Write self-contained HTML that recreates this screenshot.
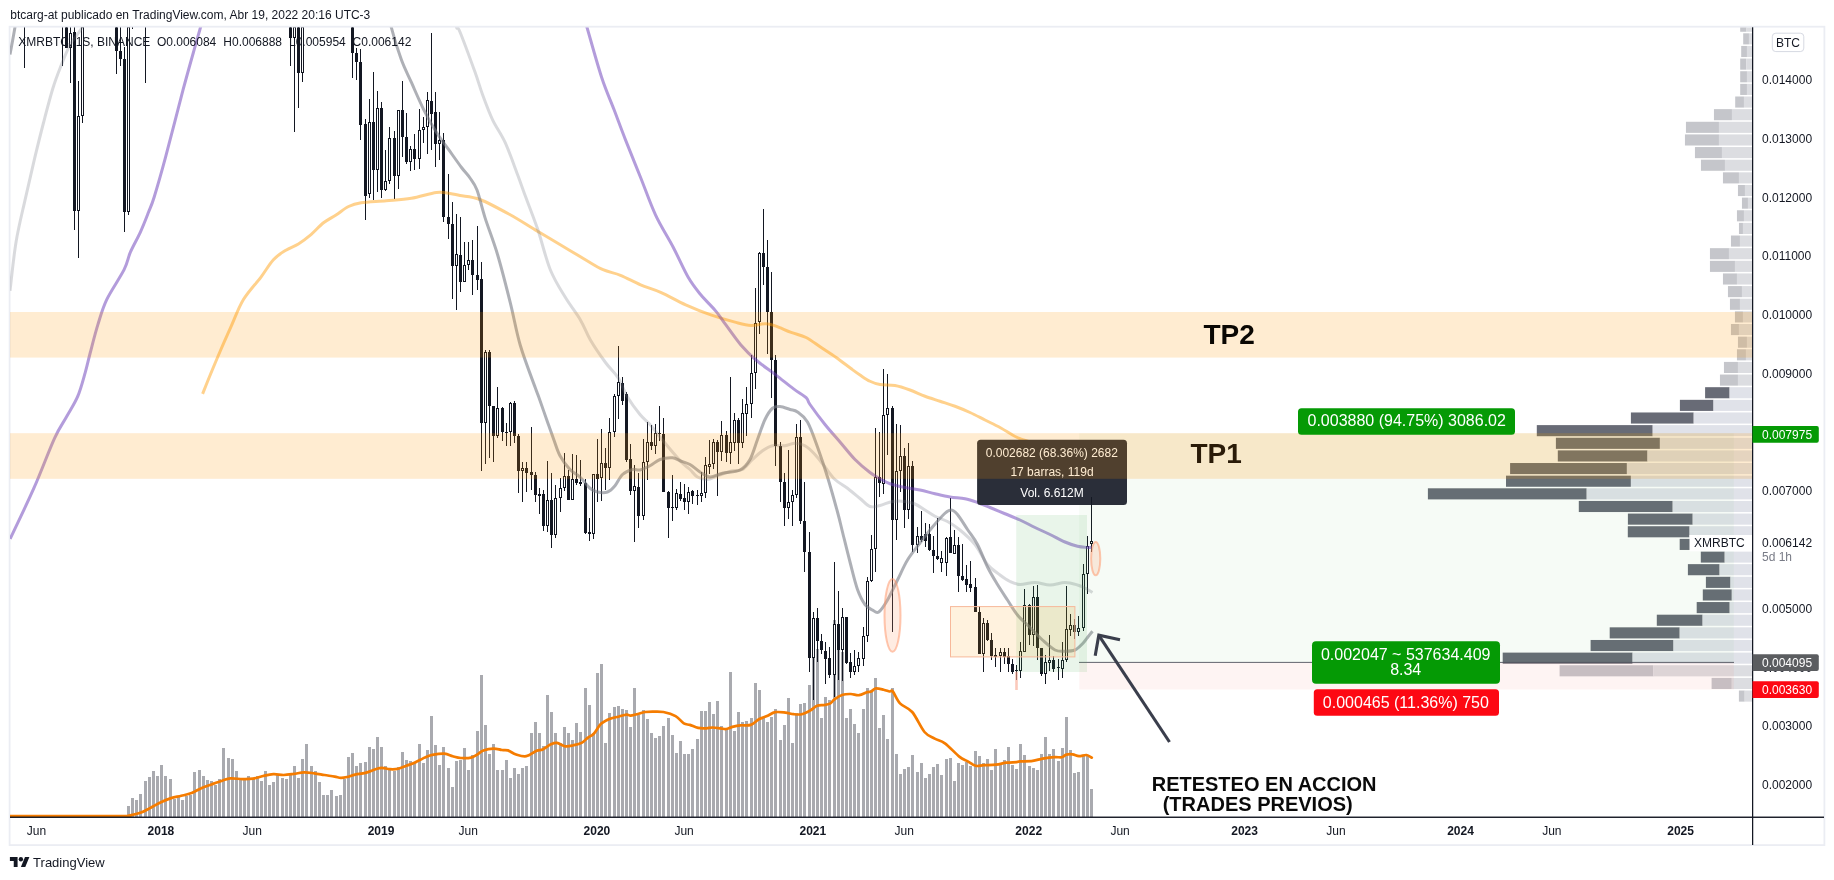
<!DOCTYPE html>
<html lang="es"><head><meta charset="utf-8"><title>XMRBTC - TradingView</title>
<style>html,body{margin:0;padding:0;background:#fff}body{width:1834px;height:880px;overflow:hidden;position:relative;font-family:"Liberation Sans",Arial,sans-serif}</style>
</head><body>
<svg width="1834" height="880" viewBox="0 0 1834 880" style="position:absolute;left:0;top:0;display:block;will-change:transform">
<defs><clipPath id="cp"><rect x="10" y="27.5" width="1742.5" height="789.5"/></clipPath></defs>
<rect x="0" y="0" width="1834" height="880" fill="#ffffff"/>
<rect x="9.6" y="26.7" width="1814.8" height="818.4" fill="none" stroke="#ebedf3" stroke-width="1.8"/>
<g clip-path="url(#cp)">
<g>
<rect x="1740.2" y="20.66" width="6.25" height="11.1" fill="#c5c6cb"/>
<rect x="1746.45" y="20.66" width="6.25" height="11.1" fill="#dcdde1"/>
<rect x="1743.2" y="33.3" width="5.75" height="11.1" fill="#c5c6cb"/>
<rect x="1748.95" y="33.3" width="3.75" height="11.1" fill="#dcdde1"/>
<rect x="1741.2" y="45.94" width="5.75" height="11.1" fill="#c5c6cb"/>
<rect x="1746.95" y="45.94" width="5.75" height="11.1" fill="#dcdde1"/>
<rect x="1740.2" y="58.58" width="6" height="11.1" fill="#c5c6cb"/>
<rect x="1746.2" y="58.58" width="6.5" height="11.1" fill="#dcdde1"/>
<rect x="1740.2" y="71.22" width="6.75" height="11.1" fill="#c5c6cb"/>
<rect x="1746.95" y="71.22" width="5.75" height="11.1" fill="#dcdde1"/>
<rect x="1740.2" y="83.86" width="6.75" height="11.1" fill="#c5c6cb"/>
<rect x="1746.95" y="83.86" width="5.75" height="11.1" fill="#dcdde1"/>
<rect x="1735.2" y="96.49" width="8.75" height="11.1" fill="#c5c6cb"/>
<rect x="1743.95" y="96.49" width="8.75" height="11.1" fill="#dcdde1"/>
<rect x="1713.95" y="109.13" width="18" height="11.1" fill="#c5c6cb"/>
<rect x="1731.95" y="109.13" width="20.75" height="11.1" fill="#dcdde1"/>
<rect x="1685.95" y="121.77" width="33" height="11.1" fill="#c5c6cb"/>
<rect x="1718.95" y="121.77" width="33.75" height="11.1" fill="#dcdde1"/>
<rect x="1684.95" y="134.41" width="34" height="11.1" fill="#c5c6cb"/>
<rect x="1718.95" y="134.41" width="33.75" height="11.1" fill="#dcdde1"/>
<rect x="1694.95" y="147.05" width="27" height="11.1" fill="#c5c6cb"/>
<rect x="1721.95" y="147.05" width="30.75" height="11.1" fill="#dcdde1"/>
<rect x="1700.95" y="159.69" width="24" height="11.1" fill="#c5c6cb"/>
<rect x="1724.95" y="159.69" width="27.75" height="11.1" fill="#dcdde1"/>
<rect x="1722.95" y="172.33" width="16" height="11.1" fill="#c5c6cb"/>
<rect x="1738.95" y="172.33" width="13.75" height="11.1" fill="#dcdde1"/>
<rect x="1737.95" y="184.97" width="7" height="11.1" fill="#c5c6cb"/>
<rect x="1744.95" y="184.97" width="7.75" height="11.1" fill="#dcdde1"/>
<rect x="1741.95" y="197.61" width="6" height="11.1" fill="#c5c6cb"/>
<rect x="1747.95" y="197.61" width="4.75" height="11.1" fill="#dcdde1"/>
<rect x="1736.95" y="210.25" width="7" height="11.1" fill="#c5c6cb"/>
<rect x="1743.95" y="210.25" width="8.75" height="11.1" fill="#dcdde1"/>
<rect x="1738.95" y="222.88" width="4" height="11.1" fill="#c5c6cb"/>
<rect x="1742.95" y="222.88" width="9.75" height="11.1" fill="#dcdde1"/>
<rect x="1730.95" y="235.52" width="9" height="11.1" fill="#c5c6cb"/>
<rect x="1739.95" y="235.52" width="12.75" height="11.1" fill="#dcdde1"/>
<rect x="1709.95" y="248.16" width="19" height="11.1" fill="#c5c6cb"/>
<rect x="1728.95" y="248.16" width="23.75" height="11.1" fill="#dcdde1"/>
<rect x="1709.95" y="260.8" width="25" height="11.1" fill="#c5c6cb"/>
<rect x="1734.95" y="260.8" width="17.75" height="11.1" fill="#dcdde1"/>
<rect x="1722.95" y="273.44" width="14" height="11.1" fill="#c5c6cb"/>
<rect x="1736.95" y="273.44" width="15.75" height="11.1" fill="#dcdde1"/>
<rect x="1727.95" y="286.08" width="14" height="11.1" fill="#c5c6cb"/>
<rect x="1741.95" y="286.08" width="10.75" height="11.1" fill="#dcdde1"/>
<rect x="1729.95" y="298.72" width="10" height="11.1" fill="#c5c6cb"/>
<rect x="1739.95" y="298.72" width="12.75" height="11.1" fill="#dcdde1"/>
<rect x="1734.95" y="311.36" width="8" height="11.1" fill="#c5c6cb"/>
<rect x="1742.95" y="311.36" width="9.75" height="11.1" fill="#dcdde1"/>
<rect x="1730.95" y="324" width="8" height="11.1" fill="#c5c6cb"/>
<rect x="1738.95" y="324" width="13.75" height="11.1" fill="#dcdde1"/>
<rect x="1737.95" y="336.64" width="9" height="11.1" fill="#c5c6cb"/>
<rect x="1746.95" y="336.64" width="5.75" height="11.1" fill="#dcdde1"/>
<rect x="1736.95" y="349.27" width="9" height="11.1" fill="#c5c6cb"/>
<rect x="1745.95" y="349.27" width="6.75" height="11.1" fill="#dcdde1"/>
<rect x="1723.95" y="361.91" width="14" height="11.1" fill="#c5c6cb"/>
<rect x="1737.95" y="361.91" width="14.75" height="11.1" fill="#dcdde1"/>
<rect x="1719.95" y="374.55" width="18" height="11.1" fill="#c5c6cb"/>
<rect x="1737.95" y="374.55" width="14.75" height="11.1" fill="#dcdde1"/>
<rect x="1705.1" y="387.19" width="24.5" height="11.1" fill="#686b76"/>
<rect x="1729.6" y="387.19" width="23.1" height="11.1" fill="#e0e2e9"/>
<rect x="1679.9" y="399.83" width="33.6" height="11.1" fill="#686b76"/>
<rect x="1713.5" y="399.83" width="39.2" height="11.1" fill="#e0e2e9"/>
<rect x="1630.9" y="412.47" width="62.8" height="11.1" fill="#686b76"/>
<rect x="1693.7" y="412.47" width="59" height="11.1" fill="#e0e2e9"/>
<rect x="1536.8" y="425.11" width="115.9" height="11.1" fill="#686b76"/>
<rect x="1652.7" y="425.11" width="100" height="11.1" fill="#e0e2e9"/>
<rect x="1555.9" y="437.75" width="104" height="11.1" fill="#686b76"/>
<rect x="1659.9" y="437.75" width="92.8" height="11.1" fill="#e0e2e9"/>
<rect x="1557.8" y="450.39" width="89.7" height="11.1" fill="#686b76"/>
<rect x="1647.5" y="450.39" width="105.2" height="11.1" fill="#e0e2e9"/>
<rect x="1510.1" y="463.03" width="116.8" height="11.1" fill="#686b76"/>
<rect x="1626.9" y="463.03" width="125.8" height="11.1" fill="#e0e2e9"/>
<rect x="1506" y="475.66" width="124.9" height="11.1" fill="#686b76"/>
<rect x="1630.9" y="475.66" width="121.8" height="11.1" fill="#e0e2e9"/>
<rect x="1427.9" y="488.3" width="158.8" height="11.1" fill="#686b76"/>
<rect x="1586.7" y="488.3" width="166" height="11.1" fill="#e0e2e9"/>
<rect x="1578.8" y="500.94" width="93.9" height="11.1" fill="#686b76"/>
<rect x="1672.7" y="500.94" width="80" height="11.1" fill="#e0e2e9"/>
<rect x="1627.9" y="513.58" width="64.8" height="11.1" fill="#686b76"/>
<rect x="1692.7" y="513.58" width="60" height="11.1" fill="#e0e2e9"/>
<rect x="1627.8" y="526.22" width="61.8" height="11.1" fill="#686b76"/>
<rect x="1689.6" y="526.22" width="63.1" height="11.1" fill="#e0e2e9"/>
<rect x="1679.7" y="538.86" width="38.5" height="11.1" fill="#686b76"/>
<rect x="1718.2" y="538.86" width="34.5" height="11.1" fill="#e0e2e9"/>
<rect x="1700.8" y="551.5" width="23.9" height="11.1" fill="#686b76"/>
<rect x="1724.7" y="551.5" width="28" height="11.1" fill="#e0e2e9"/>
<rect x="1687.9" y="564.14" width="31.7" height="11.1" fill="#686b76"/>
<rect x="1719.6" y="564.14" width="33.1" height="11.1" fill="#e0e2e9"/>
<rect x="1705.9" y="576.78" width="24.6" height="11.1" fill="#686b76"/>
<rect x="1730.5" y="576.78" width="22.2" height="11.1" fill="#e0e2e9"/>
<rect x="1702.8" y="589.42" width="29" height="11.1" fill="#686b76"/>
<rect x="1731.8" y="589.42" width="20.9" height="11.1" fill="#e0e2e9"/>
<rect x="1696.7" y="602.05" width="33" height="11.1" fill="#686b76"/>
<rect x="1729.7" y="602.05" width="23" height="11.1" fill="#e0e2e9"/>
<rect x="1656.8" y="614.69" width="45.8" height="11.1" fill="#686b76"/>
<rect x="1702.6" y="614.69" width="50.1" height="11.1" fill="#e0e2e9"/>
<rect x="1609.7" y="627.33" width="70" height="11.1" fill="#686b76"/>
<rect x="1679.7" y="627.33" width="73" height="11.1" fill="#e0e2e9"/>
<rect x="1590.6" y="639.97" width="82.9" height="11.1" fill="#686b76"/>
<rect x="1673.5" y="639.97" width="79.2" height="11.1" fill="#e0e2e9"/>
<rect x="1502.7" y="652.61" width="129.9" height="11.1" fill="#686b76"/>
<rect x="1632.6" y="652.61" width="120.1" height="11.1" fill="#e0e2e9"/>
<rect x="1559.6" y="665.25" width="93.8" height="11.1" fill="#c5c6cb"/>
<rect x="1653.4" y="665.25" width="99.3" height="11.1" fill="#dcdde1"/>
<rect x="1711.6" y="677.89" width="20.2" height="11.1" fill="#c5c6cb"/>
<rect x="1731.8" y="677.89" width="20.9" height="11.1" fill="#dcdde1"/>
<rect x="1738.9" y="690.53" width="5.8" height="11.1" fill="#c5c6cb"/>
<rect x="1744.7" y="690.53" width="8" height="11.1" fill="#dcdde1"/>
</g>
<g fill="#a9aaaf" shape-rendering="crispEdges">
<rect x="127" y="806" width="3" height="11"/>
<rect x="131" y="798" width="3" height="19"/>
<rect x="135" y="800" width="3" height="17"/>
<rect x="139" y="794" width="3" height="23"/>
<rect x="144" y="781" width="3" height="36"/>
<rect x="148" y="777" width="3" height="40"/>
<rect x="152" y="771" width="3" height="46"/>
<rect x="156" y="776" width="3" height="41"/>
<rect x="160" y="765" width="3" height="52"/>
<rect x="164" y="776" width="3" height="41"/>
<rect x="169" y="779" width="3" height="38"/>
<rect x="173" y="799" width="3" height="18"/>
<rect x="177" y="797" width="3" height="20"/>
<rect x="181" y="800" width="3" height="17"/>
<rect x="185" y="796" width="3" height="21"/>
<rect x="189" y="795" width="3" height="22"/>
<rect x="193" y="772" width="3" height="45"/>
<rect x="198" y="770" width="3" height="47"/>
<rect x="202" y="776" width="3" height="41"/>
<rect x="206" y="780" width="3" height="37"/>
<rect x="210" y="781" width="3" height="36"/>
<rect x="214" y="785" width="3" height="32"/>
<rect x="218" y="779" width="3" height="38"/>
<rect x="222" y="748" width="3" height="69"/>
<rect x="227" y="758" width="3" height="59"/>
<rect x="231" y="759" width="3" height="58"/>
<rect x="235" y="771" width="3" height="46"/>
<rect x="239" y="779" width="3" height="38"/>
<rect x="243" y="780" width="3" height="37"/>
<rect x="247" y="776" width="3" height="41"/>
<rect x="252" y="780" width="3" height="37"/>
<rect x="256" y="776" width="3" height="41"/>
<rect x="260" y="781" width="3" height="36"/>
<rect x="264" y="771" width="3" height="46"/>
<rect x="268" y="785" width="3" height="32"/>
<rect x="272" y="782" width="3" height="35"/>
<rect x="276" y="774" width="3" height="43"/>
<rect x="281" y="778" width="3" height="39"/>
<rect x="285" y="779" width="3" height="38"/>
<rect x="289" y="774" width="3" height="43"/>
<rect x="293" y="766" width="3" height="51"/>
<rect x="297" y="778" width="3" height="39"/>
<rect x="301" y="759" width="3" height="58"/>
<rect x="305" y="744" width="3" height="73"/>
<rect x="310" y="766" width="3" height="51"/>
<rect x="314" y="771" width="3" height="46"/>
<rect x="318" y="782" width="3" height="35"/>
<rect x="322" y="795" width="3" height="22"/>
<rect x="326" y="795" width="3" height="22"/>
<rect x="330" y="790" width="3" height="27"/>
<rect x="335" y="796" width="3" height="21"/>
<rect x="339" y="795" width="3" height="22"/>
<rect x="343" y="779" width="3" height="38"/>
<rect x="347" y="757" width="3" height="60"/>
<rect x="351" y="753" width="3" height="64"/>
<rect x="355" y="766" width="3" height="51"/>
<rect x="359" y="763" width="3" height="54"/>
<rect x="364" y="762" width="3" height="55"/>
<rect x="368" y="747" width="3" height="70"/>
<rect x="372" y="749" width="3" height="68"/>
<rect x="376" y="737" width="3" height="80"/>
<rect x="380" y="747" width="3" height="70"/>
<rect x="384" y="766" width="3" height="51"/>
<rect x="388" y="770" width="3" height="47"/>
<rect x="393" y="771" width="3" height="46"/>
<rect x="397" y="767" width="3" height="50"/>
<rect x="401" y="752" width="3" height="65"/>
<rect x="405" y="760" width="3" height="57"/>
<rect x="409" y="761" width="3" height="56"/>
<rect x="413" y="763" width="3" height="54"/>
<rect x="418" y="744" width="3" height="73"/>
<rect x="422" y="763" width="3" height="54"/>
<rect x="426" y="750" width="3" height="67"/>
<rect x="430" y="716" width="3" height="101"/>
<rect x="434" y="745" width="3" height="72"/>
<rect x="438" y="765" width="3" height="52"/>
<rect x="442" y="747" width="3" height="70"/>
<rect x="447" y="768" width="3" height="49"/>
<rect x="451" y="787" width="3" height="30"/>
<rect x="455" y="761" width="3" height="56"/>
<rect x="459" y="760" width="3" height="57"/>
<rect x="463" y="748" width="3" height="69"/>
<rect x="467" y="770" width="3" height="47"/>
<rect x="471" y="755" width="3" height="62"/>
<rect x="476" y="731" width="3" height="86"/>
<rect x="480" y="675" width="3" height="142"/>
<rect x="484" y="725" width="3" height="92"/>
<rect x="488" y="754" width="3" height="63"/>
<rect x="492" y="744" width="3" height="73"/>
<rect x="496" y="770" width="3" height="47"/>
<rect x="501" y="770" width="3" height="47"/>
<rect x="505" y="760" width="3" height="57"/>
<rect x="509" y="778" width="3" height="39"/>
<rect x="513" y="768" width="3" height="49"/>
<rect x="517" y="774" width="3" height="43"/>
<rect x="521" y="768" width="3" height="49"/>
<rect x="525" y="766" width="3" height="51"/>
<rect x="530" y="733" width="3" height="84"/>
<rect x="534" y="722" width="3" height="95"/>
<rect x="538" y="733" width="3" height="84"/>
<rect x="542" y="746" width="3" height="71"/>
<rect x="546" y="695" width="3" height="122"/>
<rect x="550" y="712" width="3" height="105"/>
<rect x="554" y="733" width="3" height="84"/>
<rect x="559" y="743" width="3" height="74"/>
<rect x="563" y="727" width="3" height="90"/>
<rect x="567" y="733" width="3" height="84"/>
<rect x="571" y="740" width="3" height="77"/>
<rect x="575" y="723" width="3" height="94"/>
<rect x="579" y="732" width="3" height="85"/>
<rect x="584" y="688" width="3" height="129"/>
<rect x="588" y="705" width="3" height="112"/>
<rect x="592" y="733" width="3" height="84"/>
<rect x="596" y="673" width="3" height="144"/>
<rect x="600" y="664" width="3" height="153"/>
<rect x="604" y="743" width="3" height="74"/>
<rect x="608" y="713" width="3" height="104"/>
<rect x="613" y="707" width="3" height="110"/>
<rect x="617" y="706" width="3" height="111"/>
<rect x="621" y="709" width="3" height="108"/>
<rect x="625" y="710" width="3" height="107"/>
<rect x="629" y="727" width="3" height="90"/>
<rect x="633" y="688" width="3" height="129"/>
<rect x="637" y="715" width="3" height="102"/>
<rect x="642" y="710" width="3" height="107"/>
<rect x="646" y="719" width="3" height="98"/>
<rect x="650" y="733" width="3" height="84"/>
<rect x="654" y="738" width="3" height="79"/>
<rect x="658" y="736" width="3" height="81"/>
<rect x="662" y="726" width="3" height="91"/>
<rect x="667" y="718" width="3" height="99"/>
<rect x="671" y="735" width="3" height="82"/>
<rect x="675" y="753" width="3" height="64"/>
<rect x="679" y="741" width="3" height="76"/>
<rect x="683" y="754" width="3" height="63"/>
<rect x="687" y="754" width="3" height="63"/>
<rect x="691" y="749" width="3" height="68"/>
<rect x="696" y="739" width="3" height="78"/>
<rect x="700" y="711" width="3" height="106"/>
<rect x="704" y="711" width="3" height="106"/>
<rect x="708" y="702" width="3" height="115"/>
<rect x="712" y="714" width="3" height="103"/>
<rect x="716" y="701" width="3" height="116"/>
<rect x="720" y="726" width="3" height="91"/>
<rect x="725" y="729" width="3" height="88"/>
<rect x="729" y="672" width="3" height="145"/>
<rect x="733" y="731" width="3" height="86"/>
<rect x="737" y="712" width="3" height="105"/>
<rect x="741" y="722" width="3" height="95"/>
<rect x="745" y="721" width="3" height="96"/>
<rect x="750" y="718" width="3" height="99"/>
<rect x="754" y="683" width="3" height="134"/>
<rect x="758" y="690" width="3" height="127"/>
<rect x="762" y="717" width="3" height="100"/>
<rect x="766" y="722" width="3" height="95"/>
<rect x="770" y="717" width="3" height="100"/>
<rect x="774" y="709" width="3" height="108"/>
<rect x="779" y="740" width="3" height="77"/>
<rect x="783" y="725" width="3" height="92"/>
<rect x="787" y="698" width="3" height="119"/>
<rect x="791" y="743" width="3" height="74"/>
<rect x="795" y="713" width="3" height="104"/>
<rect x="799" y="704" width="3" height="113"/>
<rect x="803" y="703" width="3" height="114"/>
<rect x="808" y="685" width="3" height="132"/>
<rect x="812" y="640" width="3" height="177"/>
<rect x="816" y="649" width="3" height="168"/>
<rect x="820" y="718" width="3" height="99"/>
<rect x="824" y="697" width="3" height="120"/>
<rect x="828" y="700" width="3" height="117"/>
<rect x="833" y="620" width="3" height="197"/>
<rect x="837" y="650" width="3" height="167"/>
<rect x="841" y="652" width="3" height="165"/>
<rect x="845" y="718" width="3" height="99"/>
<rect x="849" y="709" width="3" height="108"/>
<rect x="853" y="724" width="3" height="93"/>
<rect x="857" y="733" width="3" height="84"/>
<rect x="862" y="709" width="3" height="108"/>
<rect x="866" y="688" width="3" height="129"/>
<rect x="870" y="690" width="3" height="127"/>
<rect x="874" y="678" width="3" height="139"/>
<rect x="878" y="728" width="3" height="89"/>
<rect x="882" y="715" width="3" height="102"/>
<rect x="886" y="739" width="3" height="78"/>
<rect x="891" y="688" width="3" height="129"/>
<rect x="895" y="754" width="3" height="63"/>
<rect x="899" y="774" width="3" height="43"/>
<rect x="903" y="769" width="3" height="48"/>
<rect x="907" y="767" width="3" height="50"/>
<rect x="911" y="755" width="3" height="62"/>
<rect x="916" y="772" width="3" height="45"/>
<rect x="920" y="763" width="3" height="54"/>
<rect x="924" y="778" width="3" height="39"/>
<rect x="928" y="774" width="3" height="43"/>
<rect x="932" y="767" width="3" height="50"/>
<rect x="936" y="764" width="3" height="53"/>
<rect x="940" y="775" width="3" height="42"/>
<rect x="945" y="759" width="3" height="58"/>
<rect x="949" y="758" width="3" height="59"/>
<rect x="953" y="781" width="3" height="36"/>
<rect x="957" y="763" width="3" height="54"/>
<rect x="961" y="765" width="3" height="52"/>
<rect x="965" y="762" width="3" height="55"/>
<rect x="969" y="766" width="3" height="51"/>
<rect x="974" y="751" width="3" height="66"/>
<rect x="978" y="756" width="3" height="61"/>
<rect x="982" y="763" width="3" height="54"/>
<rect x="986" y="759" width="3" height="58"/>
<rect x="990" y="770" width="3" height="47"/>
<rect x="994" y="749" width="3" height="68"/>
<rect x="999" y="765" width="3" height="52"/>
<rect x="1003" y="760" width="3" height="57"/>
<rect x="1007" y="747" width="3" height="70"/>
<rect x="1011" y="765" width="3" height="52"/>
<rect x="1015" y="769" width="3" height="48"/>
<rect x="1019" y="744" width="3" height="73"/>
<rect x="1023" y="755" width="3" height="62"/>
<rect x="1028" y="766" width="3" height="51"/>
<rect x="1032" y="768" width="3" height="49"/>
<rect x="1036" y="770" width="3" height="47"/>
<rect x="1040" y="754" width="3" height="63"/>
<rect x="1044" y="737" width="3" height="80"/>
<rect x="1048" y="754" width="3" height="63"/>
<rect x="1052" y="749" width="3" height="68"/>
<rect x="1057" y="761" width="3" height="56"/>
<rect x="1061" y="748" width="3" height="69"/>
<rect x="1065" y="717" width="3" height="100"/>
<rect x="1069" y="750" width="3" height="67"/>
<rect x="1073" y="773" width="3" height="44"/>
<rect x="1077" y="772" width="3" height="45"/>
<rect x="1082" y="756" width="3" height="61"/>
<rect x="1086" y="756" width="3" height="61"/>
<rect x="1090" y="789" width="3" height="28"/>
</g>
<path d="M10 816 C28.33 816.03 100.33 816.23 120 816.2 C139.67 816.17 124.6 816.37 128 815.8 C131.4 815.23 136.62 814.15 140.4 812.8 C144.18 811.45 147.28 809.47 150.7 807.7 C154.12 805.93 157.5 803.8 160.9 802.2 C164.3 800.6 167.7 799.17 171.1 798.1 C174.5 797.03 177.88 796.65 181.3 795.8 C184.72 794.95 188.18 794.32 191.6 793 C195.02 791.68 198.4 789.37 201.8 787.9 C205.2 786.43 208.6 785.4 212 784.2 C215.4 783 219.13 781.67 222.2 780.7 C225.27 779.73 226.98 778.67 230.4 778.4 C233.82 778.13 238.95 779.05 242.7 779.1 C246.45 779.15 249.5 779.22 252.9 778.7 C256.3 778.18 259.68 776.75 263.1 776 C266.52 775.25 269.98 774.37 273.4 774.2 C276.82 774.03 280.2 775.05 283.6 775 C287 774.95 290.4 774.35 293.8 773.9 C297.2 773.45 300.58 772.4 304 772.3 C307.42 772.2 310.88 772.85 314.3 773.3 C317.72 773.75 321.1 774.45 324.5 775 C327.9 775.55 331.97 776.13 334.7 776.6 C337.43 777.07 338.85 777.73 340.9 777.8 C342.95 777.87 344.62 777.53 347 777 C349.38 776.47 352.13 775.28 355.2 774.6 C358.27 773.92 362 773.8 365.4 772.9 C368.8 772 372.87 770.05 375.6 769.2 C378.33 768.35 379.42 767.8 381.8 767.8 C384.18 767.8 387.18 769.03 389.9 769.2 C392.62 769.37 395.37 769.37 398.1 768.8 C400.83 768.23 403.57 766.82 406.3 765.8 C409.03 764.78 411.77 763.9 414.5 762.7 C417.23 761.5 420.77 759.55 422.7 758.6 C424.63 757.65 424.5 757.62 426.1 757 C427.7 756.38 429.23 755.45 432.3 754.9 C435.37 754.35 441.1 753.48 444.5 753.7 C447.9 753.92 449.97 755.48 452.7 756.2 C455.43 756.92 457.83 757.77 460.9 758 C463.97 758.23 468.37 758.18 471.1 757.6 C473.83 757.02 475.25 755.7 477.3 754.5 C479.35 753.3 480.68 751.38 483.4 750.4 C486.12 749.42 490.53 748.67 493.6 748.6 C496.67 748.53 499.42 749.7 501.8 750 C504.18 750.3 505.52 749.65 507.9 750.4 C510.28 751.15 513.03 753.53 516.1 754.5 C519.17 755.47 522.88 756.82 526.3 756.2 C529.72 755.58 533.87 751.93 536.6 750.8 C539.33 749.67 540.32 750.48 542.7 749.4 C545.08 748.32 548.52 745.38 550.9 744.3 C553.28 743.22 554.62 742.57 557 742.9 C559.38 743.23 562.47 745.9 565.2 746.3 C567.93 746.7 570.67 745.87 573.4 745.3 C576.13 744.73 579.22 744.15 581.6 742.9 C583.98 741.65 585.67 739.33 587.7 737.8 C589.73 736.27 591.58 736.03 593.8 733.7 C596.02 731.37 598.27 726.3 601 723.8 C603.73 721.3 607.3 719.88 610.2 718.7 C613.1 717.52 615.68 717.38 618.4 716.7 C621.12 716.02 624.47 714.77 626.5 714.6 C628.53 714.43 628.88 715.77 630.6 715.7 C632.32 715.63 634.4 714.82 636.8 714.2 C639.2 713.58 642.28 712.43 645 712 C647.72 711.57 650.03 711.6 653.1 711.6 C656.17 711.6 659.65 711.25 663.4 712 C667.15 712.75 672.2 714.2 675.6 716.1 C679 718 681.42 721.93 683.8 723.4 C686.18 724.87 687.52 724.15 689.9 724.9 C692.28 725.65 695.37 727.33 698.1 727.9 C700.83 728.47 703.92 728.37 706.3 728.3 C708.68 728.23 710.02 727.5 712.4 727.5 C714.78 727.5 718.32 728.05 720.6 728.3 C722.88 728.55 724.15 729.23 726.1 729 C728.05 728.77 729.92 727.52 732.3 726.9 C734.68 726.28 737.33 725.63 740.4 725.3 C743.47 724.97 747.62 725.9 750.7 724.9 C753.78 723.9 756.18 720.77 758.9 719.3 C761.62 717.83 764.28 717.28 767 716.1 C769.72 714.92 772.13 712.78 775.2 712.2 C778.27 711.62 782.33 712.27 785.4 712.6 C788.47 712.93 790.87 713.93 793.6 714.2 C796.33 714.47 799.07 714.8 801.8 714.2 C804.53 713.6 807.45 712 810 710.6 C812.55 709.2 814.72 706.73 817.1 705.8 C819.48 704.87 822.08 705.4 824.3 705 C826.52 704.6 828.7 704.35 830.4 703.4 C832.1 702.45 832.45 700.73 834.5 699.3 C836.55 697.87 839.97 695.68 842.7 694.8 C845.43 693.92 848.17 693.93 850.9 694 C853.63 694.07 856.38 695.52 859.1 695.2 C861.82 694.88 865.17 692.72 867.2 692.1 C869.23 691.48 869.93 692.1 871.3 691.5 C872.67 690.9 873.35 688.8 875.4 688.5 C877.45 688.2 881.22 689.2 883.6 689.7 C885.98 690.2 888.17 691.2 889.7 691.5 C891.23 691.8 891.08 689.52 892.8 691.5 C894.52 693.48 896.77 699.98 900 703.4 C903.23 706.82 908.12 707.23 912.2 712 C916.28 716.77 920.75 727.57 924.5 732 C928.25 736.43 931.3 736.72 934.7 738.6 C938.1 740.48 940.8 740.3 944.9 743.3 C949 746.3 955.55 753.63 959.3 756.6 C963.05 759.57 964.68 759.57 967.4 761.1 C970.12 762.63 972.87 765.12 975.6 765.8 C978.33 766.48 980.38 765.38 983.8 765.2 C987.22 765.02 992.35 765.12 996.1 764.7 C999.85 764.28 1002.9 763.13 1006.3 762.7 C1009.7 762.27 1014.22 762.32 1016.5 762.1 C1018.78 761.88 1017.3 761.6 1020 761.4 C1022.7 761.2 1028.92 761.37 1032.7 760.9 C1036.48 760.43 1039.07 759.23 1042.7 758.6 C1046.33 757.97 1051.32 757.32 1054.5 757.1 C1057.68 756.88 1059.82 757.72 1061.8 757.3 C1063.78 756.88 1064.58 755.08 1066.4 754.6 C1068.22 754.12 1070.6 754.13 1072.7 754.4 C1074.8 754.67 1076.72 756.1 1079 756.2 C1081.28 756.3 1084.27 754.75 1086.4 755 C1088.53 755.25 1090.9 757.25 1091.8 757.7" fill="none" stroke="#f57c00" stroke-width="2.7" stroke-linejoin="round" stroke-linecap="round"/>
<g fill="#131722" shape-rendering="crispEdges">
<rect x="24" y="0" width="1" height="68"/>
<rect x="23" y="0" width="3" height="20"/>
<rect x="62" y="0" width="1" height="66"/>
<rect x="61" y="0" width="3" height="20"/>
<rect x="66" y="0" width="1" height="48"/>
<rect x="65" y="0" width="3" height="48"/>
<rect x="70" y="0" width="1" height="83"/>
<rect x="69" y="33" width="3" height="15"/>
<rect x="70" y="34" width="1" height="13" fill="#ffffff"/>
<rect x="74" y="0" width="1" height="230"/>
<rect x="73" y="32" width="3" height="179"/>
<rect x="78" y="81" width="1" height="177"/>
<rect x="77" y="116" width="3" height="95"/>
<rect x="78" y="117" width="1" height="93" fill="#ffffff"/>
<rect x="82" y="0" width="1" height="123"/>
<rect x="81" y="0" width="3" height="116"/>
<rect x="82" y="1" width="1" height="114" fill="#ffffff"/>
<rect x="116" y="0" width="1" height="74"/>
<rect x="115" y="0" width="3" height="51"/>
<rect x="120" y="0" width="1" height="66"/>
<rect x="119" y="51" width="3" height="8"/>
<rect x="124" y="47" width="1" height="185"/>
<rect x="123" y="59" width="3" height="153"/>
<rect x="128" y="0" width="1" height="215"/>
<rect x="127" y="0" width="3" height="212"/>
<rect x="128" y="1" width="1" height="210" fill="#ffffff"/>
<rect x="132" y="0" width="1" height="29"/>
<rect x="131" y="0" width="3" height="20"/>
<rect x="145" y="0" width="1" height="83"/>
<rect x="144" y="0" width="3" height="20"/>
<rect x="290" y="0" width="1" height="66"/>
<rect x="289" y="0" width="3" height="38"/>
<rect x="294" y="0" width="1" height="132"/>
<rect x="293" y="0" width="3" height="38"/>
<rect x="294" y="1" width="1" height="36" fill="#ffffff"/>
<rect x="298" y="0" width="1" height="108"/>
<rect x="297" y="0" width="3" height="73"/>
<rect x="302" y="0" width="1" height="82"/>
<rect x="301" y="0" width="3" height="73"/>
<rect x="302" y="1" width="1" height="71" fill="#ffffff"/>
<rect x="352" y="0" width="1" height="78"/>
<rect x="351" y="0" width="3" height="53"/>
<rect x="356" y="48" width="1" height="32"/>
<rect x="355" y="53" width="3" height="9"/>
<rect x="360" y="49" width="1" height="91"/>
<rect x="359" y="62" width="3" height="63"/>
<rect x="365" y="119" width="1" height="101"/>
<rect x="364" y="124" width="3" height="72"/>
<rect x="369" y="99" width="1" height="99"/>
<rect x="368" y="122" width="3" height="72"/>
<rect x="369" y="123" width="1" height="70" fill="#ffffff"/>
<rect x="373" y="72" width="1" height="128"/>
<rect x="372" y="122" width="3" height="48"/>
<rect x="377" y="91" width="1" height="101"/>
<rect x="376" y="108" width="3" height="62"/>
<rect x="377" y="109" width="1" height="60" fill="#ffffff"/>
<rect x="381" y="102" width="1" height="96"/>
<rect x="380" y="108" width="3" height="82"/>
<rect x="385" y="150" width="1" height="41"/>
<rect x="384" y="181" width="3" height="9"/>
<rect x="385" y="182" width="1" height="7" fill="#ffffff"/>
<rect x="389" y="127" width="1" height="57"/>
<rect x="388" y="138" width="3" height="43"/>
<rect x="389" y="139" width="1" height="41" fill="#ffffff"/>
<rect x="394" y="131" width="1" height="68"/>
<rect x="393" y="138" width="3" height="38"/>
<rect x="398" y="110" width="1" height="79"/>
<rect x="397" y="110" width="3" height="66"/>
<rect x="398" y="111" width="1" height="64" fill="#ffffff"/>
<rect x="402" y="81" width="1" height="76"/>
<rect x="401" y="110" width="3" height="27"/>
<rect x="406" y="113" width="1" height="51"/>
<rect x="405" y="137" width="3" height="25"/>
<rect x="410" y="146" width="1" height="25"/>
<rect x="409" y="149" width="3" height="13"/>
<rect x="410" y="150" width="1" height="11" fill="#ffffff"/>
<rect x="414" y="134" width="1" height="36"/>
<rect x="413" y="149" width="3" height="10"/>
<rect x="419" y="109" width="1" height="60"/>
<rect x="418" y="130" width="3" height="29"/>
<rect x="419" y="131" width="1" height="27" fill="#ffffff"/>
<rect x="423" y="117" width="1" height="26"/>
<rect x="422" y="127" width="3" height="3"/>
<rect x="423" y="128" width="1" height="1" fill="#ffffff"/>
<rect x="427" y="92" width="1" height="62"/>
<rect x="426" y="100" width="3" height="27"/>
<rect x="427" y="101" width="1" height="25" fill="#ffffff"/>
<rect x="431" y="33" width="1" height="117"/>
<rect x="430" y="101" width="3" height="13"/>
<rect x="435" y="92" width="1" height="75"/>
<rect x="434" y="112" width="3" height="32"/>
<rect x="439" y="112" width="1" height="48"/>
<rect x="438" y="140" width="3" height="4"/>
<rect x="439" y="141" width="1" height="2" fill="#ffffff"/>
<rect x="443" y="133" width="1" height="89"/>
<rect x="442" y="140" width="3" height="77"/>
<rect x="448" y="174" width="1" height="65"/>
<rect x="447" y="217" width="3" height="7"/>
<rect x="452" y="202" width="1" height="97"/>
<rect x="451" y="224" width="3" height="42"/>
<rect x="456" y="214" width="1" height="96"/>
<rect x="455" y="254" width="3" height="12"/>
<rect x="456" y="255" width="1" height="10" fill="#ffffff"/>
<rect x="460" y="217" width="1" height="75"/>
<rect x="459" y="255" width="3" height="27"/>
<rect x="464" y="242" width="1" height="40"/>
<rect x="463" y="265" width="3" height="17"/>
<rect x="464" y="266" width="1" height="15" fill="#ffffff"/>
<rect x="468" y="242" width="1" height="28"/>
<rect x="467" y="260" width="3" height="5"/>
<rect x="468" y="261" width="1" height="3" fill="#ffffff"/>
<rect x="472" y="240" width="1" height="55"/>
<rect x="471" y="260" width="3" height="15"/>
<rect x="477" y="226" width="1" height="64"/>
<rect x="476" y="275" width="3" height="5"/>
<rect x="481" y="262" width="1" height="209"/>
<rect x="480" y="279" width="3" height="144"/>
<rect x="485" y="350" width="1" height="114"/>
<rect x="484" y="352" width="3" height="71"/>
<rect x="485" y="353" width="1" height="69" fill="#ffffff"/>
<rect x="489" y="350" width="1" height="108"/>
<rect x="488" y="352" width="3" height="54"/>
<rect x="493" y="406" width="1" height="56"/>
<rect x="492" y="406" width="3" height="30"/>
<rect x="497" y="387" width="1" height="51"/>
<rect x="496" y="408" width="3" height="28"/>
<rect x="497" y="409" width="1" height="26" fill="#ffffff"/>
<rect x="502" y="407" width="1" height="34"/>
<rect x="501" y="408" width="3" height="24"/>
<rect x="506" y="423" width="1" height="23"/>
<rect x="505" y="432" width="3" height="1"/>
<rect x="510" y="402" width="1" height="44"/>
<rect x="509" y="403" width="3" height="29"/>
<rect x="510" y="404" width="1" height="27" fill="#ffffff"/>
<rect x="514" y="401" width="1" height="42"/>
<rect x="513" y="403" width="3" height="33"/>
<rect x="518" y="434" width="1" height="59"/>
<rect x="517" y="436" width="3" height="35"/>
<rect x="522" y="462" width="1" height="40"/>
<rect x="521" y="468" width="3" height="3"/>
<rect x="522" y="469" width="1" height="1" fill="#ffffff"/>
<rect x="526" y="462" width="1" height="30"/>
<rect x="525" y="468" width="3" height="5"/>
<rect x="531" y="427" width="1" height="63"/>
<rect x="530" y="472" width="3" height="3"/>
<rect x="535" y="472" width="1" height="30"/>
<rect x="534" y="475" width="3" height="20"/>
<rect x="539" y="488" width="1" height="26"/>
<rect x="538" y="494" width="3" height="2"/>
<rect x="543" y="490" width="1" height="41"/>
<rect x="542" y="494" width="3" height="32"/>
<rect x="547" y="461" width="1" height="71"/>
<rect x="546" y="500" width="3" height="26"/>
<rect x="547" y="501" width="1" height="24" fill="#ffffff"/>
<rect x="551" y="473" width="1" height="75"/>
<rect x="550" y="500" width="3" height="35"/>
<rect x="555" y="485" width="1" height="53"/>
<rect x="554" y="498" width="3" height="37"/>
<rect x="555" y="499" width="1" height="35" fill="#ffffff"/>
<rect x="560" y="478" width="1" height="34"/>
<rect x="559" y="488" width="3" height="10"/>
<rect x="560" y="489" width="1" height="8" fill="#ffffff"/>
<rect x="564" y="453" width="1" height="38"/>
<rect x="563" y="476" width="3" height="12"/>
<rect x="564" y="477" width="1" height="10" fill="#ffffff"/>
<rect x="568" y="470" width="1" height="30"/>
<rect x="567" y="476" width="3" height="24"/>
<rect x="572" y="454" width="1" height="46"/>
<rect x="571" y="479" width="3" height="21"/>
<rect x="572" y="480" width="1" height="19" fill="#ffffff"/>
<rect x="576" y="455" width="1" height="30"/>
<rect x="575" y="479" width="3" height="4"/>
<rect x="580" y="460" width="1" height="26"/>
<rect x="579" y="482" width="3" height="2"/>
<rect x="585" y="479" width="1" height="55"/>
<rect x="584" y="483" width="3" height="50"/>
<rect x="589" y="518" width="1" height="23"/>
<rect x="588" y="532" width="3" height="2"/>
<rect x="593" y="474" width="1" height="65"/>
<rect x="592" y="474" width="3" height="60"/>
<rect x="593" y="475" width="1" height="58" fill="#ffffff"/>
<rect x="597" y="439" width="1" height="63"/>
<rect x="596" y="474" width="3" height="5"/>
<rect x="601" y="429" width="1" height="72"/>
<rect x="600" y="463" width="3" height="15"/>
<rect x="601" y="464" width="1" height="13" fill="#ffffff"/>
<rect x="605" y="448" width="1" height="42"/>
<rect x="604" y="463" width="3" height="5"/>
<rect x="609" y="418" width="1" height="62"/>
<rect x="608" y="432" width="3" height="36"/>
<rect x="609" y="433" width="1" height="34" fill="#ffffff"/>
<rect x="614" y="394" width="1" height="43"/>
<rect x="613" y="396" width="3" height="36"/>
<rect x="614" y="397" width="1" height="34" fill="#ffffff"/>
<rect x="618" y="346" width="1" height="73"/>
<rect x="617" y="382" width="3" height="14"/>
<rect x="618" y="383" width="1" height="12" fill="#ffffff"/>
<rect x="622" y="377" width="1" height="28"/>
<rect x="621" y="383" width="3" height="18"/>
<rect x="626" y="392" width="1" height="70"/>
<rect x="625" y="394" width="3" height="66"/>
<rect x="630" y="444" width="1" height="51"/>
<rect x="629" y="459" width="3" height="32"/>
<rect x="634" y="465" width="1" height="77"/>
<rect x="633" y="486" width="3" height="5"/>
<rect x="634" y="487" width="1" height="3" fill="#ffffff"/>
<rect x="638" y="473" width="1" height="55"/>
<rect x="637" y="487" width="3" height="29"/>
<rect x="643" y="439" width="1" height="81"/>
<rect x="642" y="462" width="3" height="54"/>
<rect x="643" y="463" width="1" height="52" fill="#ffffff"/>
<rect x="647" y="422" width="1" height="58"/>
<rect x="646" y="442" width="3" height="20"/>
<rect x="647" y="443" width="1" height="18" fill="#ffffff"/>
<rect x="651" y="425" width="1" height="25"/>
<rect x="650" y="442" width="3" height="4"/>
<rect x="655" y="424" width="1" height="30"/>
<rect x="654" y="433" width="3" height="13"/>
<rect x="655" y="434" width="1" height="11" fill="#ffffff"/>
<rect x="659" y="406" width="1" height="35"/>
<rect x="658" y="433" width="3" height="1"/>
<rect x="663" y="418" width="1" height="74"/>
<rect x="662" y="434" width="3" height="58"/>
<rect x="668" y="491" width="1" height="47"/>
<rect x="667" y="492" width="3" height="16"/>
<rect x="672" y="475" width="1" height="46"/>
<rect x="671" y="507" width="3" height="1"/>
<rect x="676" y="489" width="1" height="21"/>
<rect x="675" y="493" width="3" height="15"/>
<rect x="676" y="494" width="1" height="13" fill="#ffffff"/>
<rect x="680" y="482" width="1" height="19"/>
<rect x="679" y="494" width="3" height="5"/>
<rect x="684" y="484" width="1" height="26"/>
<rect x="683" y="498" width="3" height="4"/>
<rect x="688" y="487" width="1" height="27"/>
<rect x="687" y="492" width="3" height="10"/>
<rect x="688" y="493" width="1" height="8" fill="#ffffff"/>
<rect x="692" y="490" width="1" height="14"/>
<rect x="691" y="491" width="3" height="5"/>
<rect x="697" y="490" width="1" height="15"/>
<rect x="696" y="495" width="3" height="1"/>
<rect x="701" y="472" width="1" height="30"/>
<rect x="700" y="493" width="3" height="3"/>
<rect x="701" y="494" width="1" height="1" fill="#ffffff"/>
<rect x="705" y="457" width="1" height="41"/>
<rect x="704" y="465" width="3" height="28"/>
<rect x="705" y="466" width="1" height="26" fill="#ffffff"/>
<rect x="709" y="440" width="1" height="34"/>
<rect x="708" y="464" width="3" height="3"/>
<rect x="709" y="465" width="1" height="1" fill="#ffffff"/>
<rect x="713" y="439" width="1" height="30"/>
<rect x="712" y="442" width="3" height="22"/>
<rect x="713" y="443" width="1" height="20" fill="#ffffff"/>
<rect x="717" y="440" width="1" height="56"/>
<rect x="716" y="442" width="3" height="10"/>
<rect x="721" y="421" width="1" height="40"/>
<rect x="720" y="435" width="3" height="17"/>
<rect x="721" y="436" width="1" height="15" fill="#ffffff"/>
<rect x="726" y="431" width="1" height="31"/>
<rect x="725" y="435" width="3" height="18"/>
<rect x="730" y="377" width="1" height="87"/>
<rect x="729" y="442" width="3" height="11"/>
<rect x="730" y="443" width="1" height="9" fill="#ffffff"/>
<rect x="734" y="413" width="1" height="38"/>
<rect x="733" y="420" width="3" height="23"/>
<rect x="734" y="421" width="1" height="21" fill="#ffffff"/>
<rect x="738" y="418" width="1" height="46"/>
<rect x="737" y="420" width="3" height="23"/>
<rect x="742" y="399" width="1" height="49"/>
<rect x="741" y="413" width="3" height="30"/>
<rect x="742" y="414" width="1" height="28" fill="#ffffff"/>
<rect x="746" y="387" width="1" height="49"/>
<rect x="745" y="404" width="3" height="10"/>
<rect x="746" y="405" width="1" height="8" fill="#ffffff"/>
<rect x="751" y="355" width="1" height="63"/>
<rect x="750" y="373" width="3" height="31"/>
<rect x="751" y="374" width="1" height="29" fill="#ffffff"/>
<rect x="755" y="288" width="1" height="101"/>
<rect x="754" y="323" width="3" height="50"/>
<rect x="755" y="324" width="1" height="48" fill="#ffffff"/>
<rect x="759" y="252" width="1" height="82"/>
<rect x="758" y="253" width="3" height="69"/>
<rect x="759" y="254" width="1" height="67" fill="#ffffff"/>
<rect x="763" y="209" width="1" height="76"/>
<rect x="762" y="253" width="3" height="14"/>
<rect x="767" y="240" width="1" height="114"/>
<rect x="766" y="267" width="3" height="45"/>
<rect x="771" y="272" width="1" height="126"/>
<rect x="770" y="312" width="3" height="48"/>
<rect x="775" y="355" width="1" height="111"/>
<rect x="774" y="360" width="3" height="86"/>
<rect x="780" y="442" width="1" height="60"/>
<rect x="779" y="446" width="3" height="36"/>
<rect x="784" y="473" width="1" height="53"/>
<rect x="783" y="482" width="3" height="26"/>
<rect x="788" y="450" width="1" height="69"/>
<rect x="787" y="502" width="3" height="6"/>
<rect x="788" y="503" width="1" height="4" fill="#ffffff"/>
<rect x="792" y="490" width="1" height="36"/>
<rect x="791" y="495" width="3" height="7"/>
<rect x="792" y="496" width="1" height="5" fill="#ffffff"/>
<rect x="796" y="424" width="1" height="74"/>
<rect x="795" y="437" width="3" height="58"/>
<rect x="796" y="438" width="1" height="56" fill="#ffffff"/>
<rect x="800" y="420" width="1" height="104"/>
<rect x="799" y="437" width="3" height="84"/>
<rect x="804" y="482" width="1" height="90"/>
<rect x="803" y="521" width="3" height="31"/>
<rect x="809" y="532" width="1" height="140"/>
<rect x="808" y="552" width="3" height="106"/>
<rect x="813" y="612" width="1" height="88"/>
<rect x="812" y="618" width="3" height="40"/>
<rect x="813" y="619" width="1" height="38" fill="#ffffff"/>
<rect x="817" y="608" width="1" height="54"/>
<rect x="816" y="618" width="3" height="23"/>
<rect x="821" y="634" width="1" height="20"/>
<rect x="820" y="641" width="3" height="9"/>
<rect x="825" y="642" width="1" height="42"/>
<rect x="824" y="651" width="3" height="8"/>
<rect x="829" y="647" width="1" height="31"/>
<rect x="828" y="658" width="3" height="17"/>
<rect x="834" y="562" width="1" height="135"/>
<rect x="833" y="624" width="3" height="51"/>
<rect x="834" y="625" width="1" height="49" fill="#ffffff"/>
<rect x="838" y="591" width="1" height="89"/>
<rect x="837" y="624" width="3" height="26"/>
<rect x="842" y="608" width="1" height="73"/>
<rect x="841" y="617" width="3" height="33"/>
<rect x="842" y="618" width="1" height="31" fill="#ffffff"/>
<rect x="846" y="617" width="1" height="47"/>
<rect x="845" y="617" width="3" height="46"/>
<rect x="850" y="653" width="1" height="25"/>
<rect x="849" y="662" width="3" height="10"/>
<rect x="854" y="650" width="1" height="25"/>
<rect x="853" y="666" width="3" height="6"/>
<rect x="854" y="667" width="1" height="4" fill="#ffffff"/>
<rect x="858" y="652" width="1" height="20"/>
<rect x="857" y="658" width="3" height="8"/>
<rect x="858" y="659" width="1" height="6" fill="#ffffff"/>
<rect x="863" y="627" width="1" height="39"/>
<rect x="862" y="636" width="3" height="23"/>
<rect x="863" y="637" width="1" height="21" fill="#ffffff"/>
<rect x="867" y="577" width="1" height="65"/>
<rect x="866" y="581" width="3" height="55"/>
<rect x="867" y="582" width="1" height="53" fill="#ffffff"/>
<rect x="871" y="535" width="1" height="47"/>
<rect x="870" y="549" width="3" height="32"/>
<rect x="871" y="550" width="1" height="30" fill="#ffffff"/>
<rect x="875" y="428" width="1" height="144"/>
<rect x="874" y="477" width="3" height="72"/>
<rect x="875" y="478" width="1" height="70" fill="#ffffff"/>
<rect x="879" y="432" width="1" height="65"/>
<rect x="878" y="477" width="3" height="6"/>
<rect x="883" y="369" width="1" height="125"/>
<rect x="882" y="415" width="3" height="69"/>
<rect x="883" y="416" width="1" height="67" fill="#ffffff"/>
<rect x="887" y="374" width="1" height="81"/>
<rect x="886" y="408" width="3" height="7"/>
<rect x="887" y="409" width="1" height="5" fill="#ffffff"/>
<rect x="892" y="406" width="1" height="226"/>
<rect x="891" y="408" width="3" height="112"/>
<rect x="896" y="424" width="1" height="116"/>
<rect x="895" y="471" width="3" height="49"/>
<rect x="896" y="472" width="1" height="47" fill="#ffffff"/>
<rect x="900" y="425" width="1" height="67"/>
<rect x="899" y="456" width="3" height="15"/>
<rect x="900" y="457" width="1" height="13" fill="#ffffff"/>
<rect x="904" y="448" width="1" height="80"/>
<rect x="903" y="456" width="3" height="54"/>
<rect x="908" y="443" width="1" height="76"/>
<rect x="907" y="466" width="3" height="44"/>
<rect x="908" y="467" width="1" height="42" fill="#ffffff"/>
<rect x="912" y="461" width="1" height="91"/>
<rect x="911" y="466" width="3" height="79"/>
<rect x="917" y="527" width="1" height="26"/>
<rect x="916" y="536" width="3" height="9"/>
<rect x="917" y="537" width="1" height="7" fill="#ffffff"/>
<rect x="921" y="511" width="1" height="31"/>
<rect x="920" y="536" width="3" height="4"/>
<rect x="925" y="523" width="1" height="24"/>
<rect x="924" y="534" width="3" height="7"/>
<rect x="929" y="524" width="1" height="27"/>
<rect x="928" y="534" width="3" height="16"/>
<rect x="933" y="536" width="1" height="37"/>
<rect x="932" y="550" width="3" height="6"/>
<rect x="937" y="518" width="1" height="42"/>
<rect x="936" y="556" width="3" height="3"/>
<rect x="941" y="551" width="1" height="21"/>
<rect x="940" y="558" width="3" height="5"/>
<rect x="941" y="559" width="1" height="3" fill="#ffffff"/>
<rect x="946" y="537" width="1" height="39"/>
<rect x="945" y="538" width="3" height="25"/>
<rect x="946" y="539" width="1" height="23" fill="#ffffff"/>
<rect x="950" y="498" width="1" height="55"/>
<rect x="949" y="537" width="3" height="16"/>
<rect x="954" y="530" width="1" height="24"/>
<rect x="953" y="545" width="3" height="9"/>
<rect x="954" y="546" width="1" height="7" fill="#ffffff"/>
<rect x="958" y="537" width="1" height="55"/>
<rect x="957" y="545" width="3" height="31"/>
<rect x="962" y="544" width="1" height="37"/>
<rect x="961" y="576" width="3" height="4"/>
<rect x="966" y="565" width="1" height="27"/>
<rect x="965" y="579" width="3" height="6"/>
<rect x="970" y="561" width="1" height="31"/>
<rect x="969" y="584" width="3" height="4"/>
<rect x="975" y="578" width="1" height="34"/>
<rect x="974" y="587" width="3" height="25"/>
<rect x="979" y="606" width="1" height="48"/>
<rect x="978" y="612" width="3" height="42"/>
<rect x="983" y="618" width="1" height="54"/>
<rect x="982" y="623" width="3" height="31"/>
<rect x="983" y="624" width="1" height="29" fill="#ffffff"/>
<rect x="987" y="620" width="1" height="21"/>
<rect x="986" y="623" width="3" height="17"/>
<rect x="991" y="633" width="1" height="27"/>
<rect x="990" y="640" width="3" height="16"/>
<rect x="995" y="648" width="1" height="19"/>
<rect x="994" y="655" width="3" height="2"/>
<rect x="1000" y="648" width="1" height="24"/>
<rect x="999" y="652" width="3" height="4"/>
<rect x="1000" y="653" width="1" height="2" fill="#ffffff"/>
<rect x="1004" y="648" width="1" height="16"/>
<rect x="1003" y="652" width="3" height="5"/>
<rect x="1008" y="648" width="1" height="24"/>
<rect x="1007" y="656" width="3" height="8"/>
<rect x="1012" y="659" width="1" height="15"/>
<rect x="1011" y="664" width="3" height="8"/>
<rect x="1016" y="665" width="1" height="15"/>
<rect x="1015" y="670" width="3" height="1"/>
<rect x="1020" y="642" width="1" height="36"/>
<rect x="1019" y="651" width="3" height="20"/>
<rect x="1020" y="652" width="1" height="18" fill="#ffffff"/>
<rect x="1024" y="589" width="1" height="63"/>
<rect x="1023" y="605" width="3" height="47"/>
<rect x="1024" y="606" width="1" height="45" fill="#ffffff"/>
<rect x="1029" y="604" width="1" height="41"/>
<rect x="1028" y="605" width="3" height="30"/>
<rect x="1033" y="586" width="1" height="60"/>
<rect x="1032" y="597" width="3" height="38"/>
<rect x="1033" y="598" width="1" height="36" fill="#ffffff"/>
<rect x="1037" y="585" width="1" height="75"/>
<rect x="1036" y="597" width="3" height="51"/>
<rect x="1041" y="648" width="1" height="28"/>
<rect x="1040" y="648" width="3" height="26"/>
<rect x="1045" y="655" width="1" height="29"/>
<rect x="1044" y="662" width="3" height="12"/>
<rect x="1045" y="663" width="1" height="10" fill="#ffffff"/>
<rect x="1049" y="635" width="1" height="36"/>
<rect x="1048" y="660" width="3" height="3"/>
<rect x="1049" y="661" width="1" height="1" fill="#ffffff"/>
<rect x="1053" y="656" width="1" height="16"/>
<rect x="1052" y="660" width="3" height="9"/>
<rect x="1058" y="659" width="1" height="21"/>
<rect x="1057" y="667" width="3" height="1"/>
<rect x="1062" y="642" width="1" height="36"/>
<rect x="1061" y="660" width="3" height="9"/>
<rect x="1062" y="661" width="1" height="7" fill="#ffffff"/>
<rect x="1066" y="586" width="1" height="76"/>
<rect x="1065" y="629" width="3" height="31"/>
<rect x="1066" y="630" width="1" height="29" fill="#ffffff"/>
<rect x="1070" y="614" width="1" height="22"/>
<rect x="1069" y="625" width="3" height="5"/>
<rect x="1070" y="626" width="1" height="3" fill="#ffffff"/>
<rect x="1074" y="619" width="1" height="20"/>
<rect x="1073" y="625" width="3" height="7"/>
<rect x="1078" y="616" width="1" height="20"/>
<rect x="1077" y="628" width="3" height="4"/>
<rect x="1078" y="629" width="1" height="2" fill="#ffffff"/>
<rect x="1083" y="564" width="1" height="67"/>
<rect x="1082" y="574" width="3" height="54"/>
<rect x="1083" y="575" width="1" height="52" fill="#ffffff"/>
<rect x="1087" y="536" width="1" height="58"/>
<rect x="1086" y="546" width="3" height="28"/>
<rect x="1087" y="547" width="1" height="26" fill="#ffffff"/>
<rect x="1091" y="497" width="1" height="55"/>
<rect x="1090" y="541" width="3" height="3"/>
<rect x="1091" y="542" width="1" height="1" fill="#ffffff"/>
</g>
<g fill="none" stroke-width="3" stroke-linejoin="round">
<path d="M202.6 393.9 C203.95 390.55 207.68 381.12 210.7 373.8 C213.72 366.48 217.37 357.73 220.7 350 C224.03 342.27 226.93 335.77 230.7 327.4 C234.47 319.03 238.28 308.15 243.3 299.8 C248.32 291.45 255.78 283.98 260.8 277.3 C265.82 270.62 269.22 264.22 273.4 259.7 C277.58 255.18 281.73 252.83 285.9 250.2 C290.07 247.57 294.22 246.5 298.4 243.9 C302.58 241.3 306.82 238.12 311 234.6 C315.18 231.08 319.33 226.07 323.5 222.8 C327.67 219.53 331.82 217.72 336 215 C340.18 212.28 344.42 208.53 348.6 206.5 C352.78 204.47 354.83 203.75 361.1 202.8 C367.37 201.85 377.83 201.55 386.2 200.8 C394.57 200.05 402.93 199.68 411.3 198.3 C419.67 196.92 429.95 193.3 436.4 192.5 C442.85 191.7 446.07 193 450 193.5 C453.93 194 455 194.5 460 195.5 C465 196.5 471.63 196.28 480 199.5 C488.37 202.72 501 209.73 510.2 214.8 C519.4 219.87 526.85 224.92 535.2 229.9 C543.55 234.88 551.93 239.73 560.3 244.7 C568.67 249.67 578.28 255.53 585.4 259.7 C592.52 263.87 597.15 267.1 603 269.7 C608.85 272.3 614.23 272.78 620.5 275.3 C626.77 277.82 633.9 281.97 640.6 284.8 C647.3 287.63 653.18 288.95 660.7 292.3 C668.22 295.65 677.35 301.13 685.7 304.9 C694.05 308.67 702.43 311.98 710.8 314.9 C719.17 317.82 729.2 320.65 735.9 322.4 C742.6 324.15 745.98 325.18 751 325.4 C756.02 325.62 761.83 323.57 766 323.7 C770.17 323.83 771.82 324.75 776 326.2 C780.18 327.65 786.08 330.52 791.1 332.4 C796.12 334.28 801.08 334.98 806.1 337.5 C811.12 340.02 816.18 344.17 821.2 347.5 C826.22 350.83 831.18 353.95 836.2 357.5 C841.22 361.05 847.33 365.88 851.3 368.8 C855.27 371.72 856.88 372.93 860 375 C863.12 377.07 866.67 379.67 870 381.25 C873.33 382.83 875.83 383.79 880 384.5 C884.17 385.21 890 384.58 895 385.5 C900 386.42 905 388.21 910 390 C915 391.79 920 394.38 925 396.25 C930 398.12 935 399.58 940 401.25 C945 402.92 950 404.38 955 406.25 C960 408.12 965 410.21 970 412.5 C975 414.79 980 417.5 985 420 C990 422.5 995.42 425 1000 427.5 C1004.58 430 1009.17 433.12 1012.5 435 C1015.83 436.88 1017.08 437.58 1020 438.75 C1022.92 439.92 1023.33 439.29 1030 442 C1036.67 444.71 1049.75 450.67 1060 455 C1070.25 459.33 1086.25 465.83 1091.5 468" stroke="#ff9800" stroke-opacity="0.45"/>
<path d="M10.2 538.8 C14.18 530.28 26.72 504.45 34.1 487.7 C41.48 470.95 49.12 450.08 54.5 438.3 C59.88 426.52 62.53 423.98 66.4 417 C70.27 410.02 74.57 403.8 77.7 396.4 C80.83 389 83.1 379.92 85.2 372.6 C87.3 365.28 88.2 360.45 90.3 352.5 C92.4 344.55 95.08 333.68 97.8 324.9 C100.52 316.12 102.22 309 106.6 299.8 C110.98 290.6 120.13 277.63 124.1 269.7 C128.07 261.77 127.68 258.47 130.4 252.2 C133.12 245.93 137.38 238.75 140.4 232.1 C143.42 225.45 146.2 218.15 148.5 212.3 C150.8 206.45 151.37 206.15 154.2 197 C157.03 187.85 160.68 175.28 165.5 157.4 C170.32 139.52 178.08 108.5 183.1 89.7 C188.12 70.9 192.68 55.05 195.6 44.6 C198.52 34.15 199.03 32.77 200.6 27 C202.17 21.23 204.27 12.83 205 10" stroke="#673ab7" stroke-opacity="0.5"/>
<path d="M582 10 C582.82 12.83 583.63 15.8 586.9 27 C590.17 38.2 597.07 63.4 601.6 77.2 C606.13 91 610.12 99.35 614.1 109.8 C618.08 120.25 621.08 128.62 625.5 139.9 C629.92 151.18 635.58 164.97 640.6 177.5 C645.62 190.03 650.17 203.48 655.6 215.1 C661.03 226.72 667.77 236.83 673.2 247.2 C678.63 257.57 683.6 269.37 688.2 277.3 C692.8 285.23 696.2 289.17 700.8 294.8 C705.4 300.43 711.62 306.08 715.8 311.1 C719.98 316.12 721.72 319.25 725.9 324.9 C730.08 330.55 735.88 339.15 740.9 345 C745.92 350.85 750.15 354.98 756 360 C761.85 365.02 769.73 370.28 776 375.1 C782.27 379.92 788.58 385.13 793.6 388.9 C798.62 392.67 803.37 395.1 806.1 397.7 C808.83 400.3 806.85 400.03 810 404.5 C813.15 408.97 820 418.25 825 424.5 C830 430.75 835 436.17 840 442 C845 447.83 850 454.42 855 459.5 C860 464.58 865.83 469.29 870 472.5 C874.17 475.71 876.67 476.88 880 478.75 C883.33 480.62 885.83 482.29 890 483.75 C894.17 485.21 900 486.46 905 487.5 C910 488.54 915 488.96 920 490 C925 491.04 930 492.58 935 493.75 C940 494.92 945 496.17 950 497 C955 497.83 960.42 497.83 965 498.75 C969.58 499.67 973.33 501.04 977.5 502.5 C981.67 503.96 985.42 505.62 990 507.5 C994.58 509.38 1000 511.67 1005 513.75 C1010 515.83 1015 517.71 1020 520 C1025 522.29 1030 525.08 1035 527.5 C1040 529.92 1045 532.08 1050 534.5 C1055 536.92 1060.42 540.04 1065 542 C1069.58 543.96 1073.75 545.33 1077.5 546.25 C1081.25 547.17 1085.17 547.29 1087.5 547.5 C1089.83 547.71 1090.83 547.5 1091.5 547.5" stroke="#673ab7" stroke-opacity="0.5"/>
<path d="M10 290.8 C11.02 282.62 13.55 257.03 16.1 241.7 C18.65 226.37 22.23 212.6 25.3 198.8 C28.37 185 31.43 171.7 34.5 158.9 C37.57 146.1 40.63 133.77 43.7 122 C46.77 110.23 50.08 97.48 52.9 88.3 C55.72 79.12 57.78 74.05 60.6 66.9 C63.42 59.75 66.48 51.55 69.8 45.4 C73.12 39.25 78.13 33.9 80.5 30 C82.87 26.1 83.42 23.33 84 22" stroke="#787b86" stroke-opacity="0.28"/>
<path d="M454 10 C454.42 12.83 455.5 23.33 456.5 27 C457.5 30.67 456.92 24.48 460 32 C463.08 39.52 471.23 61.65 475 72.1 C478.77 82.55 479.67 86.75 482.6 94.7 C485.53 102.65 488.85 111.85 492.6 119.8 C496.35 127.75 500.92 133.2 505.1 142.4 C509.28 151.6 514.27 165.9 517.7 175 C521.13 184.1 522.35 187.9 525.7 197 C529.05 206.1 533.7 217.48 537.8 229.6 C541.9 241.72 545.72 258.42 550.3 269.7 C554.88 280.98 560.28 288.93 565.3 297.3 C570.32 305.67 576.22 312.78 580.4 319.9 C584.58 327.02 586.22 332.9 590.4 340 C594.58 347.1 600.9 356.23 605.5 362.5 C610.1 368.77 614.33 371.85 618 377.6 C621.67 383.35 623.83 390.85 627.5 397 C631.17 403.15 636.25 409.92 640 414.5 C643.75 419.08 646.67 420.75 650 424.5 C653.33 428.25 656.25 432.42 660 437 C663.75 441.58 668.75 447.62 672.5 452 C676.25 456.38 679.58 460.33 682.5 463.25 C685.42 466.17 687.5 467.21 690 469.5 C692.5 471.79 694.58 475.33 697.5 477 C700.42 478.67 704.17 479.71 707.5 479.5 C710.83 479.29 713.33 477.21 717.5 475.75 C721.67 474.29 728.33 471.79 732.5 470.75 C736.67 469.71 739.17 471.38 742.5 469.5 C745.83 467.62 749.17 462.62 752.5 459.5 C755.83 456.38 759.17 453.04 762.5 450.75 C765.83 448.46 768.75 446.58 772.5 445.75 C776.25 444.92 781.25 446.17 785 445.75 C788.75 445.33 791.67 443.25 795 443.25 C798.33 443.25 801.67 443.88 805 445.75 C808.33 447.62 811.67 450.96 815 454.5 C818.33 458.04 821.67 462.83 825 467 C828.33 471.17 831.25 475.96 835 479.5 C838.75 483.04 843.33 485.08 847.5 488.25 C851.67 491.42 856.25 495.46 860 498.5 C863.75 501.54 866.67 505.33 870 506.5 C873.33 507.67 876.25 506.33 880 505.5 C883.75 504.67 888.33 502.17 892.5 501.5 C896.67 500.83 901.25 501.08 905 501.5 C908.75 501.92 911.67 502.58 915 504 C918.33 505.42 921.67 507.96 925 510 C928.33 512.04 931.25 514.33 935 516.25 C938.75 518.17 943.33 519.21 947.5 521.5 C951.67 523.79 955.42 526.17 960 530 C964.58 533.83 970.42 538.75 975 544.5 C979.58 550.25 983.33 559.42 987.5 564.5 C991.67 569.58 996.25 572.17 1000 575 C1003.75 577.83 1006.67 579.92 1010 581.5 C1013.33 583.08 1015.83 584.33 1020 584.5 C1024.17 584.67 1030 582.42 1035 582.5 C1040 582.58 1045 585 1050 585 C1055 585 1060.42 582.5 1065 582.5 C1069.58 582.5 1073.96 583.96 1077.5 585 C1081.04 586.04 1083.75 587.5 1086.25 588.75 C1088.75 590 1091.46 591.88 1092.5 592.5" stroke="#787b86" stroke-opacity="0.28"/>
<path d="M10 54.6 C10.83 50 13.83 34.43 15 27 C16.17 19.57 16.67 12.83 17 10" stroke="#787b86" stroke-opacity="0.6"/>
<path d="M389 10 C389.37 12.83 389.15 18.73 391.2 27 C393.25 35.27 397.95 50.4 401.3 59.6 C404.65 68.8 407.55 73.83 411.3 82.2 C415.05 90.57 419.62 101.45 423.8 109.8 C427.98 118.15 432.22 125.62 436.4 132.3 C440.58 138.98 444.72 144.03 448.9 149.9 C453.08 155.77 457.98 162.82 461.5 167.5 C465.02 172.18 467.42 174.25 470 178 C472.58 181.75 474.5 183.4 477 190 C479.5 196.6 481.57 206.82 485 217.6 C488.43 228.38 493.4 240.58 497.6 254.7 C501.8 268.82 506.43 287.25 510.2 302.3 C513.97 317.35 516.03 330.78 520.2 345 C524.37 359.22 532.11 378.93 535.2 387.6 C538.29 396.27 536.7 391.27 538.75 397 C540.8 402.73 545 414.92 547.5 422 C550 429.08 551.67 433.88 553.75 439.5 C555.83 445.12 557.29 450.75 560 455.75 C562.71 460.75 566.67 465.96 570 469.5 C573.33 473.04 576.67 473.88 580 477 C583.33 480.12 587.08 485.75 590 488.25 C592.92 490.75 594.58 491.38 597.5 492 C600.42 492.62 604.58 493.04 607.5 492 C610.42 490.96 612.5 488.67 615 485.75 C617.5 482.83 619.58 477.21 622.5 474.5 C625.42 471.79 629.58 470.25 632.5 469.5 C635.42 468.75 637.08 470.62 640 470 C642.92 469.38 646.67 467.5 650 465.75 C653.33 464 656.25 460.83 660 459.5 C663.75 458.17 669.17 457.54 672.5 457.75 C675.83 457.96 677.08 459.62 680 460.75 C682.92 461.88 686.67 462.62 690 464.5 C693.33 466.38 696.67 469.92 700 472 C703.33 474.08 706.25 476.79 710 477 C713.75 477.21 717.5 474.42 722.5 473.25 C727.5 472.08 735.42 472.29 740 470 C744.58 467.71 747.08 464.58 750 459.5 C752.92 454.42 755 446.17 757.5 439.5 C760 432.83 762.5 424.71 765 419.5 C767.5 414.29 770 410.42 772.5 408.25 C775 406.08 777.08 406.29 780 406.5 C782.92 406.71 787.08 408.58 790 409.5 C792.92 410.42 794.58 409.92 797.5 412 C800.42 414.08 804.17 416.17 807.5 422 C810.83 427.83 814.17 437.83 817.5 447 C820.83 456.17 824.17 466.17 827.5 477 C830.83 487.83 835 502.83 837.5 512 C840 521.17 840.42 523.67 842.5 532 C844.58 540.33 847.5 552.42 850 562 C852.5 571.58 855 582.42 857.5 589.5 C860 596.58 862.5 601.08 865 604.5 C867.5 607.92 870.21 608.75 872.5 610 C874.79 611.25 876.25 613.67 878.75 612 C881.25 610.33 884.38 605.33 887.5 600 C890.62 594.67 894.17 586.67 897.5 580 C900.83 573.33 903.75 566.17 907.5 560 C911.25 553.83 915.83 548.5 920 543 C924.17 537.5 928.33 531.96 932.5 527 C936.67 522.04 941.88 516.08 945 513.25 C948.12 510.42 949.17 509.79 951.25 510 C953.33 510.21 954.79 511.25 957.5 514.5 C960.21 517.75 964.17 524.5 967.5 529.5 C970.83 534.5 974.17 538.25 977.5 544.5 C980.83 550.75 984.17 560.33 987.5 567 C990.83 573.67 994.17 579 997.5 584.5 C1000.83 590 1004.17 594.92 1007.5 600 C1010.83 605.08 1013.75 610.42 1017.5 615 C1021.25 619.58 1025.83 623.33 1030 627.5 C1034.17 631.67 1038.33 636.25 1042.5 640 C1046.67 643.75 1051.25 648.12 1055 650 C1058.75 651.88 1061.67 651.25 1065 651.25 C1068.33 651.25 1072.08 651.25 1075 650 C1077.92 648.75 1080.42 645.83 1082.5 643.75 C1084.58 641.67 1085.83 639.58 1087.5 637.5 C1089.17 635.42 1091.67 632.29 1092.5 631.25" stroke="#787b86" stroke-opacity="0.6"/>
</g>
<rect x="1079.3" y="433.3" width="654.5" height="229" fill="#4caf50" fill-opacity="0.05"/>
<rect x="1079.3" y="662.3" width="654.5" height="27.2" fill="#f44336" fill-opacity="0.06"/>
<path d="M1079 662.4H1734" stroke="#50535e" stroke-width="0.9"/>
<rect x="1016.2" y="515" width="70.8" height="157" fill="#4caf50" fill-opacity="0.12"/>
<rect x="977.1" y="439.8" width="149.9" height="65.2" rx="3.5" fill="#2a2e39" fill-opacity="1"/>
<g font-family="'Liberation Sans',Arial,sans-serif" font-size="12" fill="#ffffff" text-anchor="middle">
<text x="1051.8" y="456.6">0.002682 (68.36%) 2682</text>
<text x="1052" y="476.3">17 barras, 119d</text>
<text x="1052" y="496.6">Vol. 6.612M</text>
</g>
<rect x="1091" y="497" width="1" height="9" fill="#131722" shape-rendering="crispEdges"/>
<rect x="950.5" y="606.6" width="124.4" height="50.3" fill="#ff9800" fill-opacity="0.13" stroke="#f7b89a" stroke-width="1"/>
<ellipse cx="892.5" cy="615.4" rx="8" ry="36.4" fill="#ff9864" fill-opacity="0.19" stroke="#ff9164" stroke-opacity="0.5" stroke-width="2"/>
<ellipse cx="1095.7" cy="558.6" rx="4.6" ry="16.7" fill="#ff9864" fill-opacity="0.19" stroke="#ff9164" stroke-opacity="0.5" stroke-width="2"/>
<path d="M1016.5 671.7V690" stroke="#f9a58e" stroke-opacity="0.6" stroke-width="2.6"/>
<rect x="10" y="312" width="1743" height="45.6" fill="#ff9800" fill-opacity="0.18"/>
<rect x="10" y="433.2" width="1743" height="45.6" fill="#ff9800" fill-opacity="0.18"/>
<g font-family="'Liberation Sans',Arial,sans-serif" font-weight="bold" font-size="28">
<text x="1203.5" y="343.9" fill="#0a0703">TP2</text>
<text x="1190.4" y="463.1" fill="#2a1b08">TP1</text>
</g>
<g stroke="#3a3e4c" stroke-width="3.1" fill="none" stroke-linecap="butt" stroke-linejoin="miter">
<path d="M1169.5 742L1099 635.6"/>
<path d="M1095.2 655.8L1098.8 635.2L1120 639.8"/>
</g>
<g font-family="'Liberation Sans',Arial,sans-serif" font-size="16" fill="#ffffff" text-anchor="middle">
<rect x="1298" y="408.2" width="217" height="26.6" rx="3.5" fill="#059a05"/>
<text x="1406.7" y="426.1">0.003880 (94.75%) 3086.02</text>
<rect x="1312" y="641.3" width="188" height="42.4" rx="4" fill="#059a05"/>
<text x="1405.7" y="659.5">0.002047 ~ 537634.409</text>
<text x="1405.7" y="675.3">8.34</text>
<rect x="1313.8" y="689.2" width="185.2" height="26.5" rx="3.5" fill="#fd0813"/>
<text x="1405.9" y="707.5">0.000465 (11.36%) 750</text>
</g>
<g font-family="'Liberation Sans',Arial,sans-serif" font-weight="bold" font-size="20" fill="#0a0a0a">
<text x="1151.7" y="791">RETESTEO EN ACCION</text>
<text x="1162.7" y="810.9">(TRADES PREVIOS)</text>
</g>
</g>
<rect x="1689.5" y="535" width="63" height="16.3" fill="#ffffff"/>
<rect x="1753" y="535" width="66" height="30" fill="#ffffff"/>
<rect x="1752" y="27.3" width="1.25" height="817.7" fill="#131722"/>
<rect x="10" y="816.55" width="1814" height="1.4" fill="#131722"/>
<g font-family="'Liberation Sans',Arial,sans-serif" font-size="12" fill="#131722">
<text x="1762" y="84.1">0.014000</text>
<text x="1762" y="142.85">0.013000</text>
<text x="1762" y="201.6">0.012000</text>
<text x="1762" y="260.35">0.011000</text>
<text x="1762" y="319.1">0.010000</text>
<text x="1762" y="377.85">0.009000</text>
<text x="1762" y="495.35">0.007000</text>
<text x="1762" y="612.85">0.005000</text>
<text x="1762" y="671.6">0.004000</text>
<text x="1762" y="730.35">0.003000</text>
<text x="1762" y="789.1">0.002000</text>
</g>
<g font-family="'Liberation Sans',Arial,sans-serif" font-size="12">
<path d="M1752.5 425.9h64.3a2 2 0 0 1 2 2v12.8a2 2 0 0 1-2 2h-64.3z" fill="#059a05"/><text x="1762" y="438.6" fill="#fff">0.007975</text>
<text x="1694" y="547.3" fill="#131722">XMRBTC</text>
<text x="1762" y="547.3" fill="#131722">0.006142</text>
<text x="1762" y="561.3" fill="#787b86">5d 1h</text>
<path d="M1752.5 654.2h64.3a2 2 0 0 1 2 2v12.8a2 2 0 0 1-2 2h-64.3z" fill="#5b5d60"/><text x="1762" y="667" fill="#fff">0.004095</text>
<path d="M1752.5 681.2h64.3a2 2 0 0 1 2 2v12.8a2 2 0 0 1-2 2h-64.3z" fill="#fd0813"/><text x="1762" y="694" fill="#fff">0.003630</text>
</g>
<rect x="1772.3" y="33.2" width="31.5" height="18.4" rx="3.5" fill="#ffffff" stroke="#d6d9e2" stroke-width="1"/>
<text x="1788" y="46.6" font-family="'Liberation Sans',Arial,sans-serif" font-size="12" fill="#131722" text-anchor="middle">BTC</text>
<g font-family="'Liberation Sans',Arial,sans-serif" font-size="12" fill="#131722" text-anchor="middle">
<text x="36.39" y="835.2">Jun</text>
<text x="252.3" y="835.2">Jun</text>
<text x="468.2" y="835.2">Jun</text>
<text x="684.1" y="835.2">Jun</text>
<text x="904.16" y="835.2">Jun</text>
<text x="1120.06" y="835.2">Jun</text>
<text x="1335.97" y="835.2">Jun</text>
<text x="1551.87" y="835.2">Jun</text>
<text x="160.95" y="835.2" font-weight="bold">2018</text>
<text x="381.01" y="835.2" font-weight="bold">2019</text>
<text x="596.91" y="835.2" font-weight="bold">2020</text>
<text x="812.82" y="835.2" font-weight="bold">2021</text>
<text x="1028.72" y="835.2" font-weight="bold">2022</text>
<text x="1244.62" y="835.2" font-weight="bold">2023</text>
<text x="1460.53" y="835.2" font-weight="bold">2024</text>
<text x="1680.58" y="835.2" font-weight="bold">2025</text>
</g>
<g font-family="'Liberation Sans',Arial,sans-serif" fill="#131722">
<text x="10.3" y="19" font-size="12">btcarg-at publicado en TradingView.com, Abr 19, 2022 20:16 UTC-3</text>
<text x="18.3" y="45.8" font-size="12" xml:space="preserve">XMRBTC, 1S, BINANCE</text>
<text x="156.9" y="45.8" font-size="12">O0.006084</text>
<text x="223.3" y="45.8" font-size="12">H0.006888</text>
<text x="289" y="45.8" font-size="12">L0.005954</text>
<text x="352.6" y="45.8" font-size="12">C0.006142</text>
<text x="33.1" y="867" font-size="13">TradingView</text>
</g>
<g fill="#131722" transform="translate(9.9,854.85) scale(0.549)">
<path d="M14 22H7V11H0V4h14v18z"/><circle cx="20" cy="8" r="4"/><path d="M28 22h-8l7.5-18h8L28 22z"/>
</g>
</svg>
</body></html>
